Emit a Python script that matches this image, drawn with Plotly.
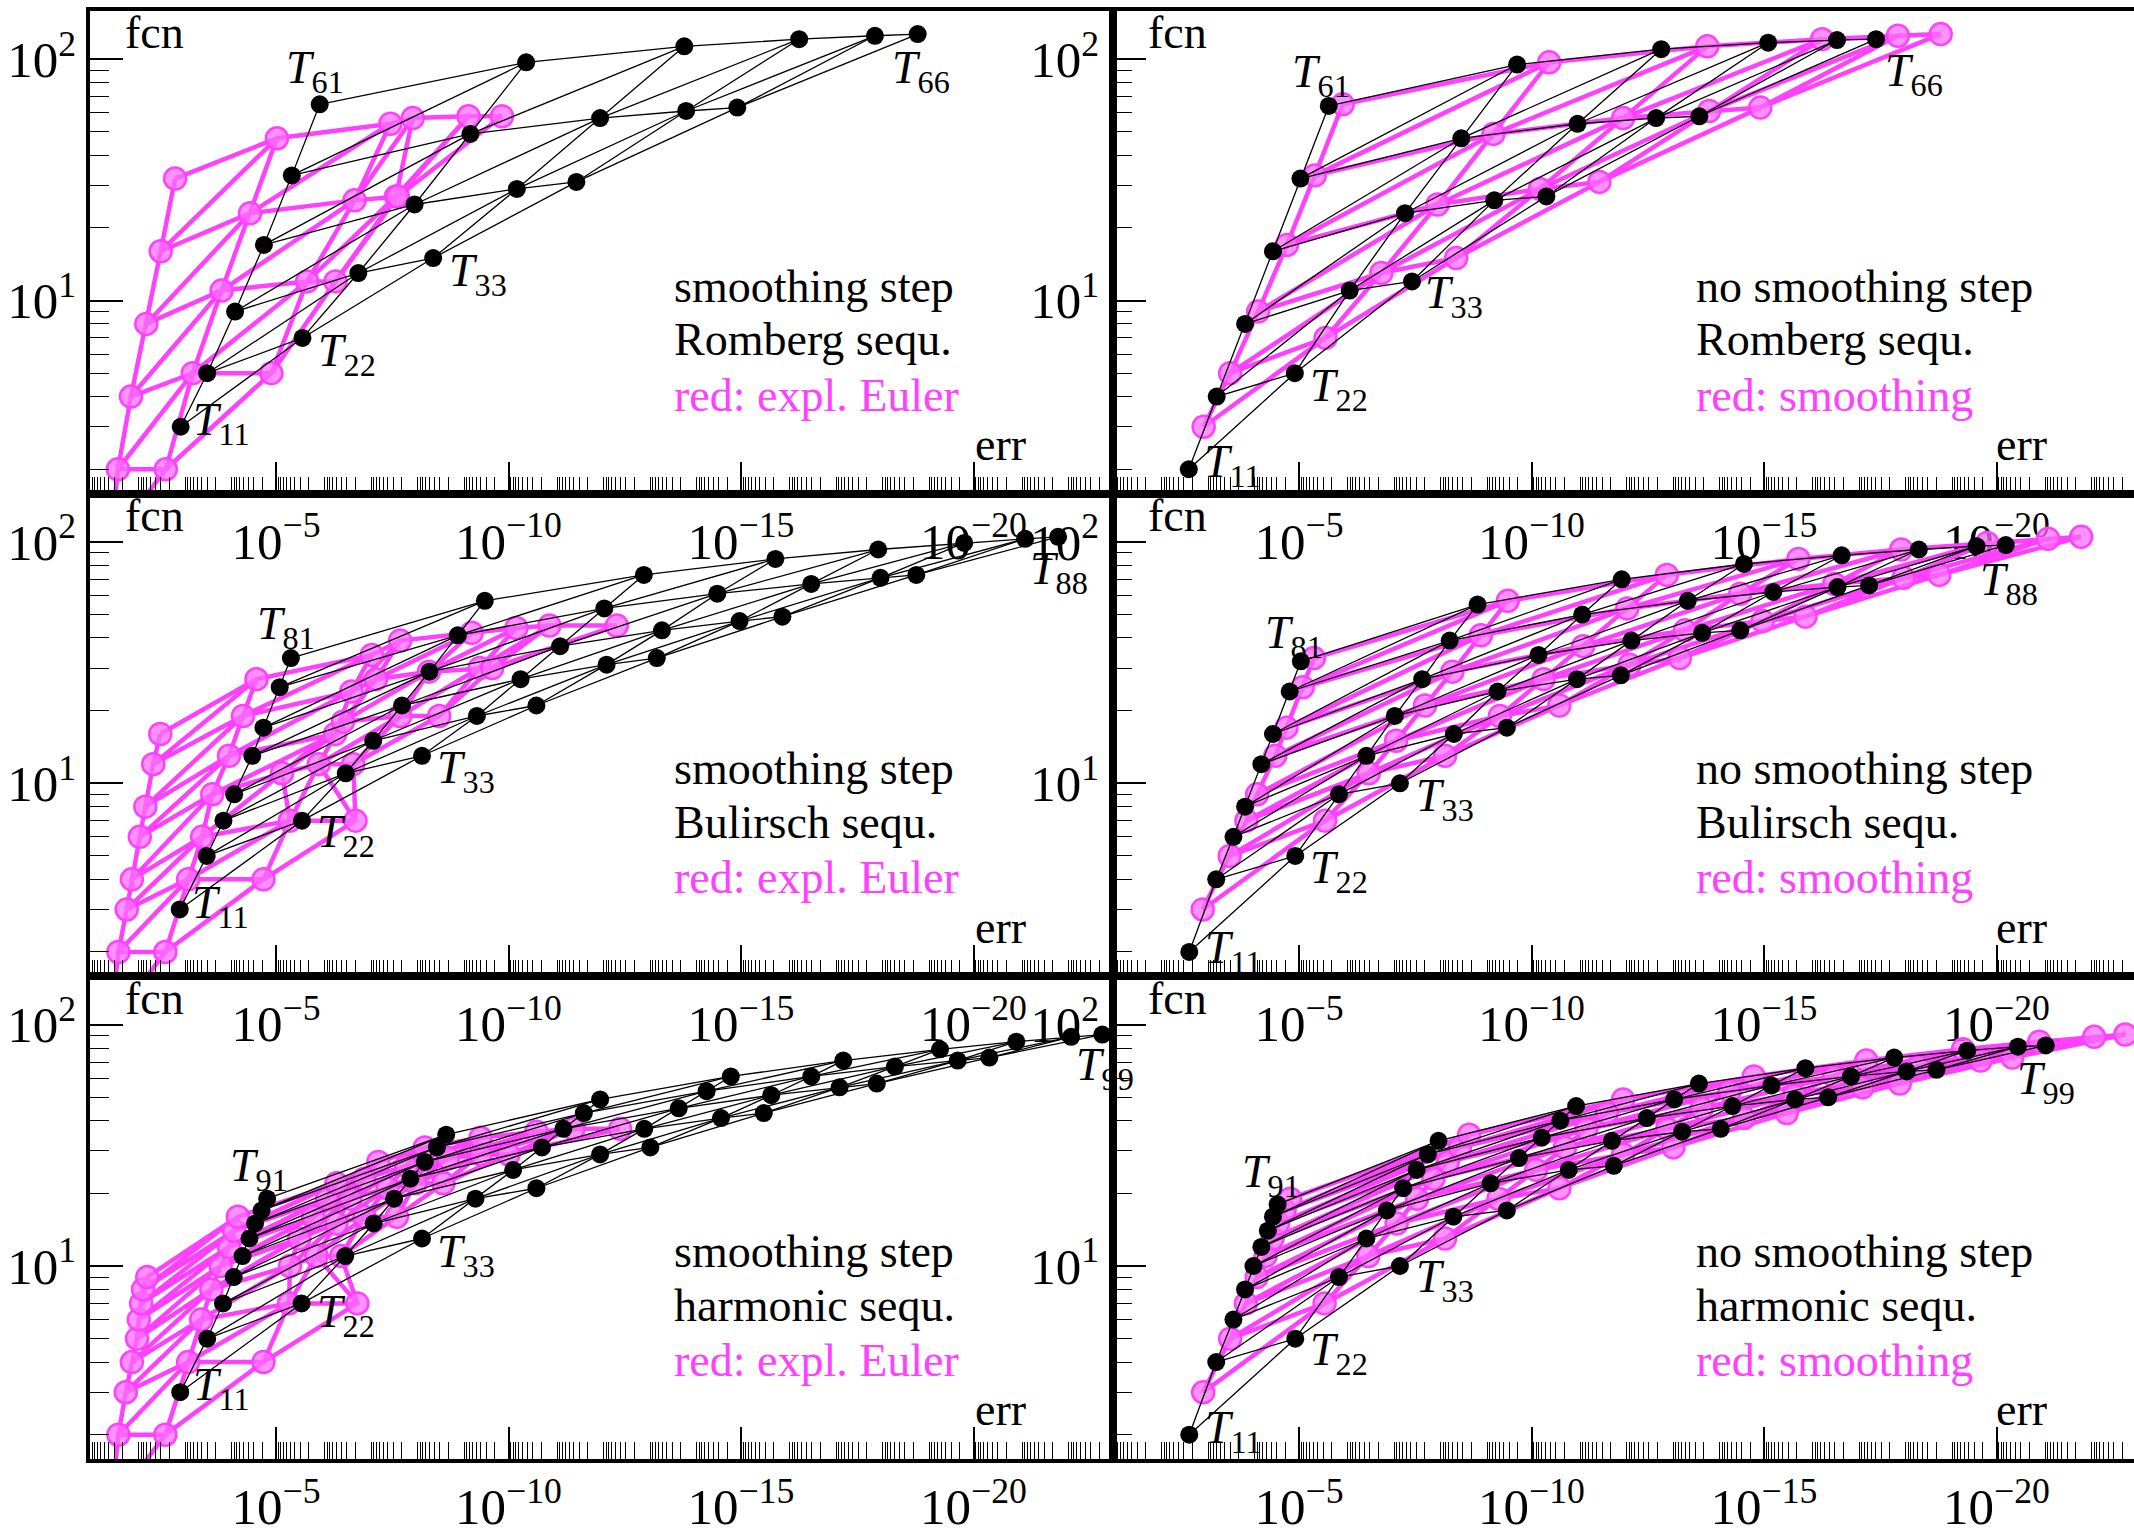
import math
import plotly.graph_objects as go

# Extrapolation tableaux T_jk (rows j = 1..K, entries k = 1..j).
# *_digits : -log10(err) of each tableau entry
# *_fcn    : function evaluations spent on that entry

# ---------------- Romberg sequence ----------------
romberg_smooth_digits = [
    [2.95],
    [3.52, 5.57],
    [4.12, 6.77, 8.38],
    [4.74, 7.98, 10.18, 11.46],
    [5.34, 9.18, 11.97, 13.82, 14.92],
    [5.94, 10.38, 13.78, 16.25, 17.88, 18.80],
]
romberg_smooth_fcn = [
    [3], [5, 7], [9, 13, 15], [17, 25, 29, 31],
    [33, 49, 57, 61, 63], [65, 97, 113, 121, 125, 127],
]

romberg_plain_digits = [
    [2.63],
    [3.23, 4.91],
    [3.84, 6.09, 7.43],
    [4.44, 7.28, 9.20, 10.32],
    [5.03, 8.49, 10.99, 12.68, 13.61],
    [5.64, 9.69, 12.79, 15.09, 16.57, 17.41],
]
romberg_plain_fcn = [
    [2], [4, 5], [8, 11, 12], [16, 23, 26, 27],
    [32, 47, 54, 57, 58], [64, 95, 110, 117, 120, 121],
]

romberg_euler_digits = [
    [1.45],
    [1.60, 2.63],
    [1.88, 3.21, 4.90],
    [2.21, 3.83, 5.67, 6.28],
    [2.52, 4.44, 6.69, 7.58, 7.62],
    [2.83, 5.02, 7.46, 7.94, 9.14, 9.86],
]
romberg_euler_fcn = [
    [1], [2, 2], [4, 5, 5], [8, 11, 12, 12],
    [16, 23, 26, 27, 27], [32, 47, 54, 57, 58, 58],
]

# ---------------- Bulirsch sequence ----------------
bulirsch_smooth_digits = [
    [2.93],
    [3.51, 5.56],
    [3.87, 6.50, 8.14],
    [4.10, 7.09, 9.32, 10.60],
    [4.49, 7.71, 10.26, 12.11, 13.19],
    [4.73, 8.30, 11.11, 13.30, 14.97, 15.89],
    [5.08, 8.91, 12.06, 14.49, 16.51, 18.00, 18.77],
    [5.32, 9.49, 12.91, 15.74, 17.95, 19.80, 21.11, 21.82],
]
bulirsch_smooth_fcn = [
    [3], [5, 7], [7, 11, 13], [9, 15, 19, 21], [13, 21, 27, 31, 33],
    [17, 29, 37, 43, 47, 49], [25, 41, 53, 61, 67, 71, 73],
    [33, 57, 73, 85, 93, 99, 103, 105],
]

bulirsch_plain_digits = [
    [2.64],
    [3.22, 4.92],
    [3.59, 5.86, 7.17],
    [3.84, 6.45, 8.33, 9.47],
    [4.19, 7.06, 9.27, 10.98, 11.92],
    [4.44, 7.65, 10.15, 12.15, 13.67, 14.49],
    [4.80, 8.24, 11.09, 13.36, 15.20, 16.58, 17.26],
    [5.04, 8.84, 11.94, 14.57, 16.67, 18.33, 19.57, 20.20],
]
bulirsch_plain_fcn = [
    [2], [4, 5], [6, 9, 10], [8, 13, 16, 17], [12, 19, 24, 27, 28],
    [16, 27, 34, 39, 42, 43], [24, 39, 50, 57, 62, 65, 66],
    [32, 55, 70, 81, 88, 93, 96, 97],
]

bulirsch_euler_digits = [
    [1.45],
    [1.61, 2.62],
    [1.79, 3.11, 4.73],
    [1.90, 3.41, 5.30, 6.71],
    [2.07, 3.63, 5.13, 5.92, 6.66],
    [2.19, 3.99, 6.27, 6.44, 7.67, 8.51],
    [2.36, 4.29, 6.62, 7.15, 8.29, 9.38, 9.65],
    [2.51, 4.58, 7.06, 7.67, 9.21, 10.17, 10.88, 12.33],
]
bulirsch_euler_fcn = [
    [1], [2, 2], [3, 4, 4], [4, 6, 7, 7], [6, 9, 11, 12, 12],
    [8, 13, 16, 18, 19, 19], [12, 19, 24, 27, 29, 30, 30],
    [16, 27, 34, 39, 42, 44, 45, 45],
]

# ---------------- harmonic sequence ----------------
harmonic_smooth_digits = [
    [2.94],
    [3.52, 5.55],
    [3.86, 6.49, 8.14],
    [4.09, 7.10, 9.29, 10.60],
    [4.28, 7.54, 10.10, 11.97, 13.05],
    [4.43, 7.89, 10.72, 12.92, 14.57, 15.49],
    [4.55, 8.20, 11.18, 13.66, 15.65, 17.12, 17.92],
    [4.69, 8.46, 11.62, 14.26, 16.51, 18.31, 19.66, 20.34],
    [4.81, 8.66, 11.97, 14.78, 17.20, 19.28, 20.92, 22.10, 22.77],
]
harmonic_smooth_fcn = [
    [3], [5, 7], [7, 11, 13], [9, 15, 19, 21], [11, 19, 25, 29, 31],
    [13, 23, 31, 37, 41, 43], [15, 27, 37, 45, 51, 55, 57],
    [17, 31, 43, 53, 61, 67, 71, 73], [19, 35, 49, 61, 71, 79, 85, 89, 91],
]

harmonic_plain_digits = [
    [2.64],
    [3.22, 4.92],
    [3.59, 5.86, 7.17],
    [3.84, 6.45, 8.32, 9.47],
    [4.02, 6.89, 9.12, 10.80, 11.77],
    [4.19, 7.24, 9.73, 11.73, 13.24, 14.07],
    [4.33, 7.53, 10.22, 12.48, 14.32, 15.67, 16.38],
    [4.44, 7.77, 10.62, 13.07, 15.16, 16.87, 18.07, 18.71],
    [4.54, 8.00, 10.96, 13.60, 15.89, 17.80, 19.37, 20.46, 21.06],
]
harmonic_plain_fcn = [
    [2], [4, 5], [6, 9, 10], [8, 13, 16, 17], [10, 17, 22, 25, 26],
    [12, 21, 28, 33, 36, 37], [14, 25, 34, 41, 46, 49, 50],
    [16, 29, 40, 49, 56, 61, 64, 65], [18, 33, 46, 57, 66, 73, 78, 81, 82],
]

harmonic_euler_digits = [
    [1.45],
    [1.61, 2.62],
    [1.77, 3.11, 4.73],
    [1.90, 3.39, 5.28, 6.75],
    [2.01, 3.61, 5.30, 5.87, 6.40],
    [2.05, 3.81, 5.50, 6.30, 6.90, 7.60],
    [2.10, 3.99, 5.80, 6.60, 7.40, 8.00, 8.60],
    [2.14, 4.10, 6.10, 6.90, 7.80, 8.70, 9.40, 10.00],
    [2.23, 4.18, 6.30, 7.20, 8.20, 9.40, 10.60, 11.40, 12.40],
]
harmonic_euler_fcn = [
    [1], [2, 2], [3, 4, 4], [4, 6, 7, 7], [5, 8, 10, 11, 11],
    [6, 10, 13, 15, 16, 16], [7, 12, 16, 19, 21, 22, 22],
    [8, 14, 19, 23, 26, 28, 29, 29], [9, 16, 22, 27, 31, 34, 36, 37, 37],
]

# Axis tick values
x_decades = list(range(2, 23))               # inner decade ticks, err = 10^-2 ... 10^-22
x_labelled = [5, 10, 15, 20]
y_decades = [1, 2]
minor_mult = [2, 3, 4, 5, 6, 7, 8, 9]

# ---------------- styling ----------------
FONT = "Liberation Serif"
MAGENTA = "#ff40ff"
W, H = 2134, 1535
COL_X = [(90, 1113), (1113, 2134)]
ROW_TOP0, ROW_H = 11, 487.5
PX_PER_DECADE = 46.5
TEXT_SIZE = 46
TICK_SIZE = 51
MAJOR_TICK = 32

panels = [
    dict(row=0, col=0, black="romberg_smooth", red="romberg_euler",
         text=["smoothing step", "Romberg sequ.", "red: expl. Euler"],
         labels=[(0, 0, 41, 4), (1, 1, 44, -16), (2, 2, 45, -16), (5, 0, -5, 33), (5, 5, 3, -37)]),
    dict(row=0, col=1, black="romberg_plain", red="romberg_smooth",
         text=["no smoothing step", "Romberg sequ.", "red: smoothing"],
         labels=[(0, 0, 44, 4), (1, 1, 44, -16), (2, 2, 42, -15), (5, 0, -8, 31), (5, 5, 38, -35)]),
    dict(row=1, col=0, black="bulirsch_smooth", red="bulirsch_euler",
         text=["smoothing step", "Bulirsch sequ.", "red: expl. Euler"],
         labels=[(0, 0, 41, 3), (1, 1, 44, -14), (2, 2, 44, -15), (7, 0, -5, 31), (7, 7, 1, -35)]),
    dict(row=1, col=1, black="bulirsch_plain", red="bulirsch_smooth",
         text=["no smoothing step", "Bulirsch sequ.", "red: smoothing"],
         labels=[(0, 0, 44, 1), (1, 1, 44, -15), (2, 2, 45, -16), (7, 0, -7, 25), (7, 7, 3, -38)]),
    dict(row=2, col=0, black="harmonic_smooth", red="harmonic_euler",
         text=["smoothing step", "harmonic sequ.", "red: expl. Euler"],
         labels=[(0, 0, 41, 4), (1, 1, 44, -12), (2, 2, 44, -16), (8, 0, -8, 30), (8, 8, 3, -33)]),
    dict(row=2, col=1, black="harmonic_plain", red="harmonic_smooth",
         text=["no smoothing step", "harmonic sequ.", "red: smoothing"],
         labels=[(0, 0, 44, 4), (1, 1, 44, -14), (2, 2, 45, -14), (8, 0, -7, 29), (8, 8, 0, -37)]),
]

tables = {
    name: (globals()[name + "_digits"], globals()[name + "_fcn"])
    for name in ["romberg_smooth", "romberg_plain", "romberg_euler",
                 "bulirsch_smooth", "bulirsch_plain", "bulirsch_euler",
                 "harmonic_smooth", "harmonic_plain", "harmonic_euler"]
}


def mesh(digits, fcn):
    """Rows, columns and diagonals of the tableau as one broken polyline."""
    K = len(digits)
    xs, ys = [], []

    def add(path):
        for j, k in path:
            xs.append(10.0 ** (-digits[j][k]))
            ys.append(fcn[j][k])
        xs.append(None)
        ys.append(None)

    for j in range(K):
        add([(j, k) for k in range(j + 1)])
    for k in range(K):
        add([(j, k) for j in range(k, K)])
    for d in range(K):
        add([(d + i, i) for i in range(K - d)])
    return xs, ys


def points(digits, fcn):
    xs, ys = [], []
    for drow, frow in zip(digits, fcn):
        for d, f in zip(drow, frow):
            xs.append(10.0 ** (-d))
            ys.append(f)
    return xs, ys


fig = go.Figure()
annotations = []
shapes = []
layout = {}

x_label_vals = [10.0 ** (-d) for d in x_labelled]
x_label_text = ["10<sup>\u2212%d</sup>" % d for d in x_labelled]
x_minor = [m * 10.0 ** (-d) for d in range(2, 25) for m in minor_mult]
y_tickvals = [10.0 ** d for d in y_decades]
y_ticktext = ["10<sup>%d</sup>" % d for d in y_decades]
y_minor = [m * 10.0 ** d for d in [0, 1, 2] for m in minor_mult]

for i, p in enumerate(panels, start=1):
    xa = "x" if i == 1 else "x%d" % i
    ya = "y" if i == 1 else "y%d" % i
    x0, x1 = COL_X[p["col"]]
    top = ROW_TOP0 + p["row"] * ROW_H
    bottom = top + ROW_H
    decades = (x1 - x0) / PX_PER_DECADE

    axis_common = dict(
        showline=True, linecolor="black", linewidth=3.5,
        ticks="inside", tickcolor="black", tickwidth=1.8,
        showgrid=False, zeroline=False, type="log",
        tickfont=dict(family=FONT, size=TICK_SIZE, color="black"),
        tickmode="array",
    )
    layout["xaxis" if i == 1 else "xaxis%d" % i] = dict(
        axis_common, mirror=True, domain=[x0 / W, x1 / W], anchor=ya,
        range=[-1, -1 - decades], ticklen=MAJOR_TICK,
        tickvals=x_label_vals, ticktext=x_label_text,
        minor=dict(ticks="inside", ticklen=17, tickwidth=1.3, tickcolor="black",
                   tickmode="array", tickvals=x_minor, showgrid=False),
    )
    layout["yaxis" if i == 1 else "yaxis%d" % i] = dict(
        axis_common, mirror=(p["col"] == 0), domain=[1 - bottom / H, 1 - top / H],
        anchor=xa, range=[0.2, 2.2], ticklen=33,
        tickvals=y_tickvals, ticktext=y_ticktext,
        minor=dict(ticks="inside", ticklen=19, tickwidth=1.3, tickcolor="black",
                   tickmode="array", tickvals=y_minor, showgrid=False),
    )

    # long tick marks at the unlabelled decades of err
    for d in x_decades:
        if d in x_labelled:
            continue
        shapes.append(dict(type="line", xref=xa, yref=ya + " domain",
                           x0=-d, x1=-d, y0=0, y1=MAJOR_TICK / ROW_H,
                           line=dict(color="black", width=1.8)))

    bd, bf = tables[p["black"]]
    rd, rf = tables[p["red"]]

    mx, my = mesh(rd, rf)
    fig.add_trace(go.Scatter(x=mx, y=my, mode="lines", xaxis=xa, yaxis=ya,
                             line=dict(color=MAGENTA, width=4.5), hoverinfo="skip"))
    px_, py_ = points(rd, rf)
    fig.add_trace(go.Scatter(x=px_, y=py_, mode="markers", xaxis=xa, yaxis=ya,
                             marker=dict(size=22, color="rgba(255,110,255,0.75)",
                                         line=dict(color=MAGENTA, width=2.5))))
    mx, my = mesh(bd, bf)
    fig.add_trace(go.Scatter(x=mx, y=my, mode="lines", xaxis=xa, yaxis=ya,
                             line=dict(color="black", width=1.3), hoverinfo="skip"))
    px_, py_ = points(bd, bf)
    fig.add_trace(go.Scatter(x=px_, y=py_, mode="markers", xaxis=xa, yaxis=ya,
                             marker=dict(size=18, color="black")))

    # tableau entry labels
    for j, k, dx, dy in p["labels"]:
        annotations.append(dict(
            x=-bd[j][k], y=math.log10(bf[j][k]), xref=xa, yref=ya,
            text="<i>T</i><sub>%d%d</sub>" % (j + 1, k + 1), showarrow=False,
            xshift=dx, yshift=dy, xanchor="center", yanchor="middle",
            font=dict(family=FONT, size=TEXT_SIZE, color="black")))

    # axis names inside the frame
    annotations.append(dict(x=0.032, y=0.955, xref=xa + " domain", yref=ya + " domain",
                            text="fcn", showarrow=False, xanchor="left", yanchor="middle",
                            font=dict(family=FONT, size=TEXT_SIZE, color="black")))
    annotations.append(dict(x=0.89, y=0.102, xref=xa + " domain", yref=ya + " domain",
                            text="err", showarrow=False, xanchor="center", yanchor="middle",
                            font=dict(family=FONT, size=TEXT_SIZE, color="black")))

    # description block
    for line_no, (txt, yy) in enumerate(zip(p["text"], [0.430, 0.319, 0.204])):
        annotations.append(dict(x=0.569, y=yy, xref=xa + " domain", yref=ya + " domain",
                                text=txt, showarrow=False, xanchor="left", yanchor="middle",
                                font=dict(family=FONT, size=TEXT_SIZE,
                                          color=MAGENTA if line_no == 2 else "black")))

fig.update_layout(
    width=W, height=H, autosize=False,
    margin=dict(l=0, r=0, t=0, b=0),
    paper_bgcolor="white", plot_bgcolor="rgba(0,0,0,0)",
    showlegend=False, annotations=annotations, shapes=shapes, **layout,
)

fig.write_html("out.html")
